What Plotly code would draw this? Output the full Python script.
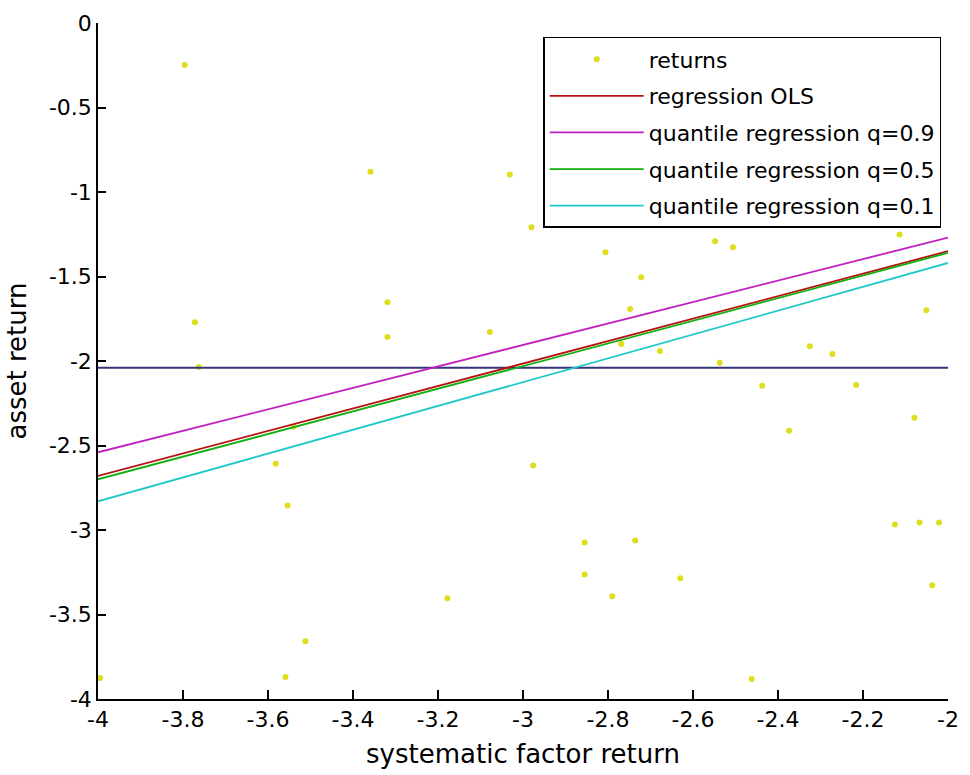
import plotly.graph_objects as go

# ---- data ----
ret_x = [-3.796, -3.359, -3.031, -3.772, -3.319, -3.319, -3.763, -2.980, -2.806, -3.078,
         -2.722, -2.748, -2.769, -2.678, -2.548, -2.506, -2.114, -2.051, -2.325, -2.272,
         -2.537, -2.437, -2.216, -2.374, -2.079, -2.976, -2.125, -2.067, -2.021, -2.855,
         -2.736, -2.855, -2.790, -2.630, -2.037, -2.462, -3.582, -3.554, -3.178, -3.512,
         -3.559, -3.995, -3.540]
ret_y = [-0.248, -0.880, -0.897, -1.770, -1.652, -1.858, -2.035, -1.209, -1.357, -1.829,
         -1.504, -1.693, -1.900, -1.941, -1.292, -1.327, -1.251, -1.699, -1.912, -1.959,
         -2.010, -2.147, -2.142, -2.413, -2.336, -2.619, -2.968, -2.956, -2.956, -3.074,
         -3.062, -3.263, -3.392, -3.286, -3.327, -3.882, -2.608, -2.855, -3.404, -3.658,
         -3.870, -3.876, -2.389]

line_x = [-4.0, -2.0]
ols_y = [-2.68, -1.35]
q90_y = [-2.54, -1.27]
q50_y = [-2.70, -1.36]
q10_y = [-2.83, -1.42]
mean_y = [-2.04, -2.04]

x_ticks = [-4, -3.8, -3.6, -3.4, -3.2, -3, -2.8, -2.6, -2.4, -2.2, -2]
x_ticktext = ["-4", "-3.8", "-3.6", "-3.4", "-3.2", "-3", "-2.8", "-2.6", "-2.4", "-2.2", "-2"]
y_ticks = [0, -0.5, -1, -1.5, -2, -2.5, -3, -3.5, -4]
y_ticktext = ["0", "-0.5", "-1", "-1.5", "-2", "-2.5", "-3", "-3.5", "-4"]

fig = go.Figure()

fig.add_trace(go.Scatter(x=ret_x, y=ret_y, mode="markers", name="returns",
                         marker=dict(color="#dede1e", size=6), legendgroup="a"))
fig.add_trace(go.Scatter(x=line_x, y=mean_y, mode="lines", showlegend=False,
                         line=dict(color="#343478", width=1.8)))
fig.add_trace(go.Scatter(x=line_x, y=ols_y, mode="lines", name="regression OLS",
                         line=dict(color="#b81010", width=1.8), legendgroup="b"))
fig.add_trace(go.Scatter(x=line_x, y=q90_y, mode="lines", name="quantile regression q=0.9",
                         line=dict(color="#c020c0", width=1.8), legendgroup="c"))
fig.add_trace(go.Scatter(x=line_x, y=q50_y, mode="lines", name="quantile regression q=0.5",
                         line=dict(color="#10b010", width=1.8), legendgroup="d"))
fig.add_trace(go.Scatter(x=line_x, y=q10_y, mode="lines", name="quantile regression q=0.1",
                         line=dict(color="#20c8c8", width=1.8), legendgroup="e"))

axis_common = dict(showline=True, linecolor="black", linewidth=1.5, ticks="inside",
                   tickcolor="black", tickwidth=1.5, showgrid=False, zeroline=False,
                   mirror=False)

fig.update_layout(
    width=970, height=775,
    margin=dict(l=98, r=11, t=23, b=74),
    paper_bgcolor="white", plot_bgcolor="white",
    font=dict(family="DejaVu Sans", size=22, color="black"),
    xaxis=dict(range=[-4, -2], tickvals=x_ticks, ticktext=x_ticktext, ticklen=9,
               title=dict(text="systematic factor return", standoff=14), **axis_common),
    yaxis=dict(range=[-4, 0], tickvals=y_ticks, ticktext=y_ticktext, ticklen=8,
               title=dict(text="asset return", standoff=15), **axis_common),
    legend=dict(x=0.5238, y=0.9794, xanchor="left", yanchor="top",
                bordercolor="black", borderwidth=1.5, bgcolor="white",
                tracegroupgap=5, itemwidth=94, traceorder="grouped"),
)

fig.write_html("out.html")
